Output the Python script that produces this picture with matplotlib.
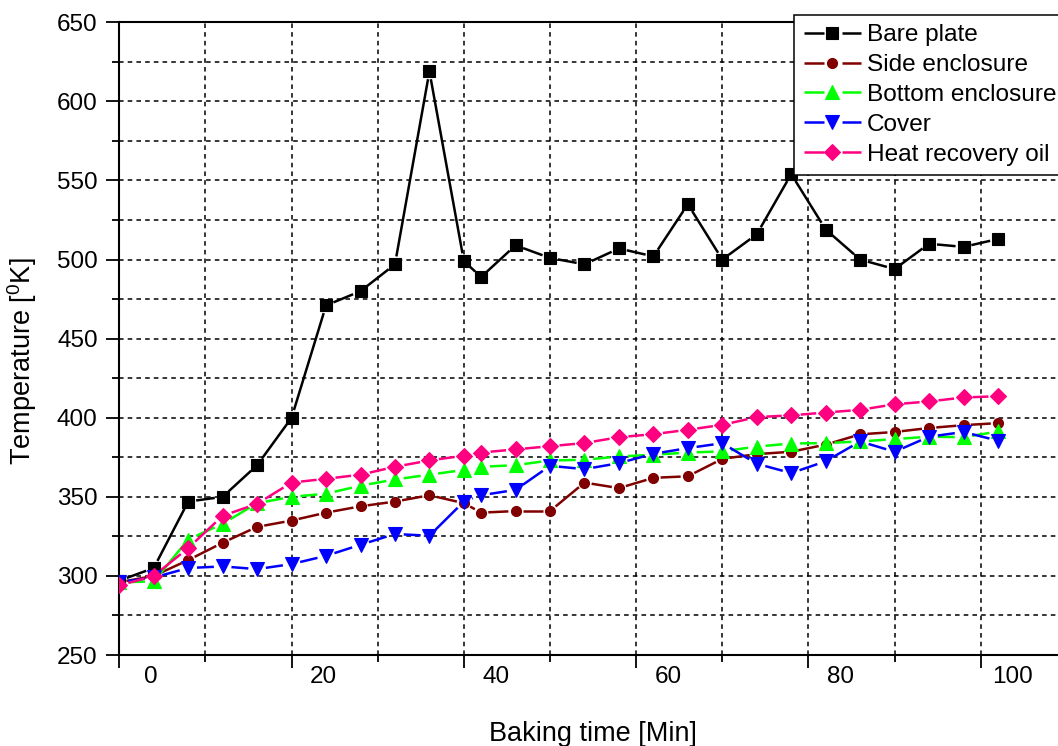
import numpy as np
import matplotlib
matplotlib.use("Agg")
import matplotlib.pyplot as plt
from matplotlib.ticker import MultipleLocator
from matplotlib.lines import Line2D
from matplotlib.transforms import ScaledTranslation

plt.rcParams['font.family'] = ['Liberation Sans', 'DejaVu Sans']
plt.rcParams['mathtext.fontset'] = 'custom'
plt.rcParams['mathtext.rm'] = 'Liberation Sans'
plt.rcParams['mathtext.it'] = 'Liberation Sans:italic'

# data (time in minutes, temperature in K)
time_min = [0, 4, 8, 12, 16, 20, 24, 28, 32, 36, 40, 42, 46, 50, 54, 58, 62,
            66, 70, 74, 78, 82, 86, 90, 94, 98, 102]
bare_plate = [297, 305, 347, 350, 370, 400, 471, 480, 497, 619, 499, 489, 509,
              501, 497, 507, 502, 535, 500, 516, 554, 519, 500, 494, 510, 508, 513]
side_enclosure = [296, 300, 310, 321, 331, 335, 340, 344, 347, 351, 346, 340,
                  341, 341, 359, 355.5, 362, 363, 374, 377, 378.5, 383, 389.5,
                  391, 393.5, 395.3, 396.6]
bottom_enclosure = [296, 296.5, 323, 333, 346, 350, 352, 357, 361, 364, 367,
                    369, 370, 373, 373.4, 375.5, 376.6, 378, 378.7, 381.8,
                    383.7, 384, 385, 386.5, 388, 387.7, 391.3]
cover = [296, 299, 305, 306, 304.3, 307.5, 312.7, 319.7, 326.5, 325.4, 347,
         351, 354.4, 369.6, 367.5, 371.3, 377.2, 380.8, 383.9, 370.9, 365,
         372.5, 385, 378.5, 388, 391, 385.5]
heat_recovery_oil = [294, 300, 317.6, 338, 345.6, 359, 361.4, 364, 369, 373,
                     376, 378, 380, 382, 384, 387.7, 389.6, 392.4, 395.5, 400.4,
                     401.5, 403.3, 405, 408.5, 410.3, 412.8, 413.6]

labels = ['Bare plate', 'Side enclosure', 'Bottom enclosure', 'Cover',
          'Heat recovery oil']
series = [bare_plate, side_enclosure, bottom_enclosure, cover, heat_recovery_oil]
colors = ['#000000', '#800000', '#00ff00', '#0000ff', '#ff0080']
markers = ['s', 'o', '^', 'v', 'D']
msizes = [8, 7.2, 9.5, 9.5, 7.8]
radius_px = [6, 5.2, 6.8, 6.8, 7.5]   # half symbol size, for the line gap
LW = 1.8

W, H = 1058, 746
fig = plt.figure(figsize=(W / 100, H / 100), dpi=100)
ax = fig.add_axes([119.3 / W, 91 / H, 947.6 / W, 632.7 / H])
ax.set_xlim(0, 110)
ax.set_ylim(250, 650)

ax.set_xticks(np.arange(0, 101, 20))
ax.xaxis.set_minor_locator(MultipleLocator(10))
ax.yaxis.set_major_locator(MultipleLocator(50))
ax.yaxis.set_minor_locator(MultipleLocator(25))
ax.grid(which='both', color='black', linestyle=(0, (3, 2.7)), linewidth=1.1)

for s in ['left', 'bottom', 'top']:
    ax.spines[s].set_linewidth(1.5)
ax.spines['right'].set_visible(False)

ax.tick_params(which='major', direction='out', length=9.4, width=1.3,
               labelsize=17.5, top=False, right=False)
ax.tick_params(which='minor', direction='out', length=4.7, width=1.3,
               top=False, right=False)
ax.tick_params(axis='x', which='major', pad=0)
ax.tick_params(axis='y', which='major', pad=6.2)

# x tick labels sit to the right of their ticks in the original
shift = ScaledTranslation(0.32, 0.02, fig.dpi_scale_trans)
for lab in ax.get_xticklabels():
    lab.set_transform(lab.get_transform() + shift)


def plot_gapped(x, y, color, marker, ms, rad, z):
    # line segments stop short of the symbols (Origin style)
    xy = ax.transData.transform(np.column_stack([x, y]))
    inv = ax.transData.inverted()
    gap = rad + 2.0
    for p, q in zip(xy[:-1], xy[1:]):
        d = q - p
        n = np.hypot(*d)
        if n <= 2 * gap:
            continue
        u = d / n
        seg = inv.transform(np.array([p + u * gap, q - u * gap]))
        ax.plot(seg[:, 0], seg[:, 1], color=color, lw=LW, zorder=z,
                solid_capstyle='butt')
    ax.plot(x, y, ls='none', marker=marker, ms=ms, color=color, mec=color,
            mew=0.8, zorder=z + 0.1)


for i, ys in enumerate(series):
    plot_gapped(time_min, ys, colors[i], markers[i], msizes[i], radius_px[i],
                2 + i * 0.2)

handles = []
for i in range(len(series)):
    handles.append(Line2D([], [], color=colors[i], marker=markers[i],
                          ms=msizes[i], mec=colors[i], mew=0.8, lw=LW,
                          linestyle=(0, (8.0, 7.2, 30))))
leg = ax.legend(handles, labels, loc='upper left',
                bbox_to_anchor=(794.3 / W, 1 - 15 / H),
                bbox_transform=fig.transFigure, borderaxespad=0,
                fontsize=17.6, handlelength=2.34, handletextpad=0.25,
                labelspacing=0.315, borderpad=0.38, fancybox=False,
                framealpha=1, edgecolor='black')
leg.get_frame().set_linewidth(1.1)

fig.text(593 / W, 1 - 740.7 / H, 'Baking time [Min]', ha='center',
         va='baseline', fontsize=19.5)
fig.text(39 / W, 1 - 361 / H, 'Temperature [$^{0}$K]', rotation=90,
         ha='right', va='center', fontsize=19.5)

fig.savefig('out.png', dpi=100)
